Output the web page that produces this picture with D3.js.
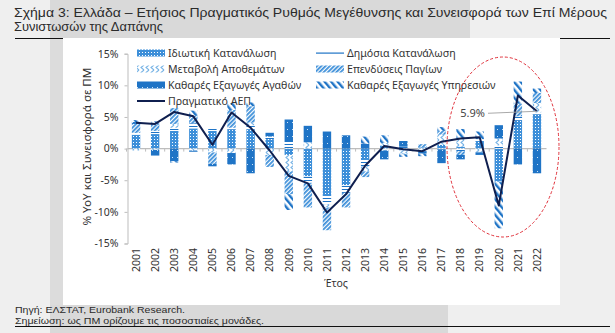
<!DOCTYPE html>
<html>
<head>
<meta charset="utf-8">
<script src="https://cdn.jsdelivr.net/npm/d3@7"></script>
<style>
  html, body { margin: 0; padding: 0; background: #efefef; }
  svg { display: block; font-family: "Noto Sans", "Open Sans", sans-serif; }
</style>
</head>
<body>
<svg id="chart" width="615" height="333"></svg>
<script>
// Years on the category axis
const years = d3.range(2001, 2023).map(String);

// Contributions to real GDP growth (percentage points)
const privateCons   = [2.2, 2.3, 2.8, 3.2, 2.8, 3.0, 3.0, 1.5, -1.0, -4.4, -7.5, -5.8, -1.8, 0.5, -0.3, 0.2, 0.6, 0.3, 1.2, -5.2, 4.4, 5.4];
const publicCons    = [0.3, 0.5, 0.5, 0.8, 0.4, 0.3, 0.7, 0.4, 1.2, -1.0, -1.3, -1.2, -1.0, -0.2, 0.3, -0.1, -0.1, -0.4, 0.3, 0.5, 0.7, 0.3];
const inventories   = [-0.3, -0.2, 0.6, -0.3, -0.6, -0.7, 0.4, -1.0, -2.6, 1.0, -0.5, 0.0, -0.8, 0.4, -0.5, -0.3, 1.6, 1.2, -0.5, 1.1, 0.0, 1.5];
const fixedInvest   = [1.4, 1.0, 2.5, 1.2, -1.8, 2.8, 2.6, -1.9, -3.6, -3.9, -3.6, -2.3, -0.9, -0.1, -0.1, 0.5, 0.6, -0.6, -0.1, -0.1, 2.0, 1.6];
const netExpGoods   = [0.3, -0.9, -2.0, -0.2, -0.4, -1.8, -3.9, 0.6, 3.4, 2.6, 2.7, 2.1, 0.8, -1.4, 0.9, -0.4, -2.2, -0.7, -0.4, 2.1, -2.5, -3.9];
const netExpServ    = [0.3, 0.5, -0.2, 0.8, 0.0, 1.1, 0.6, 0.0, -2.5, 0.0, 0.0, 0.0, 1.1, 1.2, -0.4, -0.4, 0.6, 1.6, 1.2, -7.3, 3.5, 0.7];
// Real GDP growth (% YoY)
const realGDP       = [4.1, 3.9, 5.8, 5.1, 0.6, 5.7, 3.3, -0.3, -4.3, -5.5, -10.1, -7.2, -2.7, 0.4, -0.1, -0.4, 1.1, 1.6, 1.8, -9.0, 8.4, 5.9];

const seriesNames = ["Ιδιωτική Κατανάλωση", "Δημόσια Κατανάλωση", "Μεταβολή Αποθεμάτων",
                     "Επενδύσεις Παγίων", "Καθαρές Εξαγωγές Αγαθών", "Καθαρές Εξαγωγές Υπηρεσιών"];
const seriesValues = [privateCons, publicCons, inventories, fixedInvest, netExpGoods, netExpServ];
const gdpName = "Πραγματικό ΑΕΠ";
const yTicks = [-15, -10, -5, 0, 5, 10, 15];

const svg = d3.select("#chart");

// ---- page framing ----
svg.append("rect").attr("x", 50).attr("y", 0).attr("width", 420).attr("height", 40).attr("fill", "#d9d9d9");
svg.append("rect").attr("x", 50).attr("y", 38).attr("width", 14).attr("height", 268).attr("fill", "#dcdcdc");
svg.append("rect").attr("x", 50).attr("y", 305).attr("width", 398).attr("height", 28).attr("fill", "#d9d9d9");
svg.append("line").attr("x1", 15).attr("x2", 610).attr("y1", 38.5).attr("y2", 38.5).attr("stroke", "#111").attr("stroke-width", 1);
svg.append("rect").attr("x", 63).attr("y", 38).attr("width", 497).attr("height", 267).attr("fill", "#fff");
svg.append("line").attr("x1", 15).attr("x2", 610).attr("y1", 326.5).attr("y2", 326.5).attr("stroke", "#111").attr("stroke-width", 1);

// title (two lines)
const title = svg.append("g").attr("fill", "#2b2b2b").attr("font-size", 12)
  .attr("font-family", "\"Liberation Sans\", Arial, sans-serif");
title.append("text").attr("x", 14).attr("y", 17)
  .attr("textLength", 593).attr("lengthAdjust", "spacingAndGlyphs")
  .text("Σχήμα 3: Ελλάδα – Ετήσιος Πραγματικός Ρυθμός Μεγέθυνσης  και Συνεισφορά των Επί Μέρους");
title.append("text").attr("x", 14).attr("y", 31)
  .attr("textLength", 149).attr("lengthAdjust", "spacingAndGlyphs")
  .text("Συνιστωσών της Δαπάνης");

// footer
const foot = svg.append("g").attr("fill", "#2b2b2b").attr("font-size", 9.8)
  .attr("font-family", "\"Liberation Sans\", Arial, sans-serif");
foot.append("text").attr("x", 15).attr("y", 313)
  .attr("textLength", 170).attr("lengthAdjust", "spacingAndGlyphs")
  .text("Πηγή: ΕΛΣΤΑΤ, Eurobank Research.");
foot.append("text").attr("x", 15).attr("y", 324)
  .attr("textLength", 249).attr("lengthAdjust", "spacingAndGlyphs")
  .text("Σημείωση: ως ΠΜ ορίζουμε τις ποσοστιαίες μονάδες.");

// ---- fill patterns ----
const defs = svg.append("defs");
const blue = "#1f74c6", mid = "#3d8fd9", light = "#78b4e6";
function pattern(id, w, h, draw, transform) {
  const p = defs.append("pattern").attr("id", id).attr("patternUnits", "userSpaceOnUse")
    .attr("width", w).attr("height", h);
  if (transform) p.attr("patternTransform", transform);
  draw(p);
}
pattern("pPriv", 3, 3, p => {
  p.append("rect").attr("width", 3).attr("height", 3).attr("fill", mid);
  p.append("rect").attr("x", 1).attr("y", 1).attr("width", 1).attr("height", 1).attr("fill", "#fff");
});
pattern("pPub", 4, 3, p => {
  p.append("rect").attr("width", 4).attr("height", 3).attr("fill", "#fff");
  p.append("rect").attr("width", 4).attr("height", 1).attr("fill", blue);
});
pattern("pInv", 5, 5, p => {
  p.append("rect").attr("width", 5).attr("height", 5).attr("fill", "#fff");
  p.append("path").attr("d", "M4,0 L1,2.5 L4,5").attr("fill", "none").attr("stroke", light).attr("stroke-width", 1.1);
});
pattern("pInvest", 3, 3, p => {
  p.append("rect").attr("width", 3).attr("height", 3).attr("fill", "#fff");
  p.append("rect").attr("width", 1.8).attr("height", 3).attr("fill", mid);
}, "rotate(45)");
pattern("pGoods", 5, 7, p => {
  p.append("rect").attr("width", 5).attr("height", 7).attr("fill", blue);
  p.append("rect").attr("x", 2).attr("y", 3).attr("width", 1).attr("height", 1).attr("fill", "#cfe3f6");
});
pattern("pServ", 5, 5, p => {
  p.append("rect").attr("width", 5).attr("height", 5).attr("fill", "#fff");
  p.append("rect").attr("width", 2.4).attr("height", 5).attr("fill", blue);
}, "rotate(-40)");
const fills = ["url(#pPriv)", "url(#pPub)", "url(#pInv)", "url(#pInvest)", "url(#pGoods)", "url(#pServ)"];

// ---- scales ----
const x = d3.scaleBand().domain(years).range([126.5, 546.5]).paddingInner(0.56).paddingOuter(0.28);
const y = d3.scaleLinear().domain([-15, 15]).range([243.5, 53.7]);

// ---- axes ----
const gray = "#bdbdbd";
const yAxis = svg.append("g").attr("transform", "translate(127.5,0)")
  .call(d3.axisLeft(y).tickValues(yTicks).tickSize(3).tickFormat(d => d + "%"));
yAxis.select(".domain").attr("stroke", gray);
yAxis.selectAll(".tick line").attr("stroke", gray);
yAxis.selectAll("text").attr("fill", "#333").attr("font-size", 10.5)
  .attr("font-family", "\"Noto Sans\", sans-serif").attr("dx", -3);

// horizontal zero line with small ticks between the years
const gap = (x.step() - x.bandwidth()) / 2;
const zero = svg.append("g").attr("transform", `translate(0,${y(0)})`);
zero.append("line").attr("x1", 127.5).attr("x2", 546.5).attr("stroke", gray).attr("stroke-width", 1.2);
zero.selectAll("line.t").data(years).join("line").attr("class", "t")
  .attr("x1", d => x(d) - gap).attr("x2", d => x(d) - gap)
  .attr("y1", 0).attr("y2", 3).attr("stroke", gray);

// year labels, rotated
svg.append("g").selectAll("text").data(years).join("text")
  .attr("transform", d => `translate(${x(d) + x.bandwidth() / 2 + 3.8},248) rotate(-90)`)
  .attr("text-anchor", "end").attr("font-size", 10.5).attr("fill", "#333").text(d => d);

// axis titles
svg.append("text").attr("x", 336).attr("y", 287).attr("text-anchor", "middle")
  .attr("font-size", 10.5).attr("fill", "#333").text("Έτος");
svg.append("text").attr("transform", `translate(91,${y(0) - 2}) rotate(-90)`).attr("text-anchor", "middle")
  .attr("font-size", 11).attr("fill", "#333")
  .attr("textLength", 158).attr("lengthAdjust", "spacingAndGlyphs")
  .text("% YoY και Συνεισφορά σε ΠΜ");

// ---- stacked bars ----
const rows = years.map((yr, i) => {
  const r = { year: yr };
  seriesNames.forEach((n, k) => r[n] = seriesValues[k][i]);
  return r;
});
const stacked = d3.stack().keys(seriesNames).offset(d3.stackOffsetDiverging)(rows);
svg.append("g").selectAll("g").data(stacked).join("g")
  .attr("fill", (d, k) => fills[k])
  .selectAll("rect").data(d => d).join("rect")
  .attr("x", d => x(d.data.year))
  .attr("width", x.bandwidth())
  .attr("y", d => y(Math.max(d[0], d[1])))
  .attr("height", d => Math.abs(y(d[0]) - y(d[1])));

// ---- GDP line ----
const line = d3.line().x((d, i) => x(years[i]) + x.bandwidth() / 2).y(d => y(d));
svg.append("path").datum(realGDP).attr("d", line)
  .attr("fill", "none").attr("stroke", "#0f1f4f").attr("stroke-width", 2).attr("stroke-linejoin", "round");

// ---- legend ----
const legendItems = [
  { name: seriesNames[0], fill: fills[0], x: 137, y: 53 },
  { name: seriesNames[2], fill: fills[2], x: 137, y: 69 },
  { name: seriesNames[4], fill: fills[4], x: 137, y: 85 },
  { name: seriesNames[1], fill: null,     x: 316, y: 53 },
  { name: seriesNames[3], fill: fills[3], x: 316, y: 69 },
  { name: seriesNames[5], fill: fills[5], x: 316, y: 85 }
];
const lg = svg.append("g");
legendItems.forEach(it => {
  if (it.fill) {
    lg.append("rect").attr("x", it.x).attr("y", it.y - 3.5).attr("width", 28).attr("height", 7).attr("fill", it.fill);
  } else {
    lg.append("rect").attr("x", it.x).attr("y", it.y - 0.5).attr("width", 28).attr("height", 1.2).attr("fill", blue);
  }
  lg.append("text").attr("x", it.x + 31).attr("y", it.y + 3.8).attr("font-size", 10.6).attr("fill", "#333").text(it.name);
});
lg.append("line").attr("x1", 137).attr("x2", 165).attr("y1", 101).attr("y2", 101)
  .attr("stroke", "#0f1f4f").attr("stroke-width", 2);
lg.append("text").attr("x", 168).attr("y", 104.8).attr("font-size", 10.6).attr("fill", "#333").text(gdpName);

// ---- 2022 value call-out ----
const last = realGDP[realGDP.length - 1];
svg.append("line").attr("x1", 488).attr("y1", y(last) + 2).attr("x2", x("2022") + x.bandwidth() / 2).attr("y2", y(last))
  .attr("stroke", "#a9a9a9").attr("stroke-width", 1);
svg.append("text").attr("x", 485).attr("y", y(last) + 6).attr("text-anchor", "end")
  .attr("font-size", 11).attr("fill", "#444").text(d3.format(".1f")(last) + "%");

// highlight ring around the recent years
svg.append("ellipse").attr("cx", 503).attr("cy", 147).attr("rx", 56).attr("ry", 90)
  .attr("fill", "none").attr("stroke", "#e0303a").attr("stroke-width", 1).attr("stroke-dasharray", "3,2");
</script>
</body>
</html>
